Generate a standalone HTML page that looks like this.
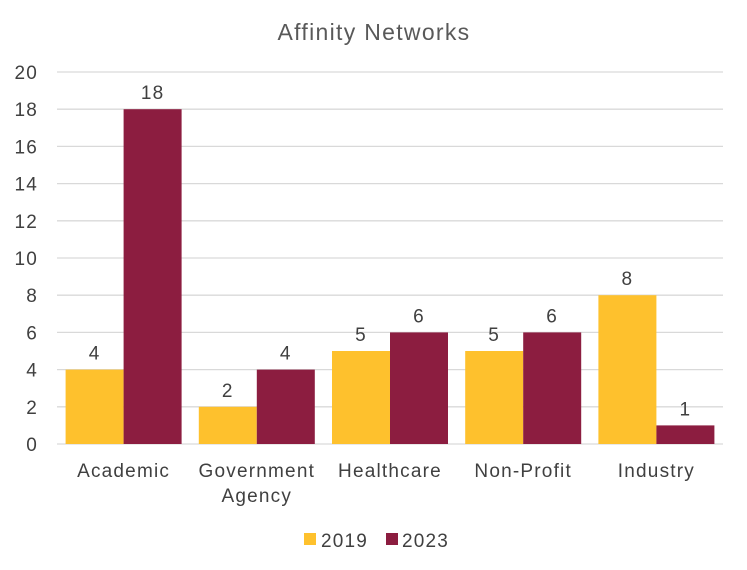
<!DOCTYPE html>
<html><head><meta charset="utf-8"><style>
body{margin:0;background:#fff;}
svg{display:block;font-family:"Liberation Sans",Arial,sans-serif;}
svg text{letter-spacing:1.2px;}
</style></head><body>
<svg id="chart" width="747" height="570">
<text x="374" y="40" text-anchor="middle" font-size="23" fill="#595959" style="letter-spacing:1.3px">Affinity Networks</text>
<g id="grid"></g><g id="bars"></g><g id="labels"></g>
<g>
<rect x="304" y="533" width="12" height="12" fill="#FEC12D"/>
<text x="321" y="547" font-size="19" fill="#404040">2019</text>
<rect x="386" y="533" width="12" height="12" fill="#8C1D40"/>
<text x="402" y="547" font-size="19" fill="#404040">2023</text>
</g>
</svg>
<script>
const categories=[["Academic"],["Government","Agency"],["Healthcare"],["Non-Profit"],["Industry"]];
const values2019=[4,2,5,5,8];
const values2023=[18,4,6,6,1];
const yTicks=[0,2,4,6,8,10,12,14,16,18,20];
const NS="http://www.w3.org/2000/svg";
const x0=57,x1=723,yBase=444,yTop=72,yMax=20;
const y=v=>yBase-(v/yMax)*(yBase-yTop);
const band=(x1-x0)/categories.length;
function mk(tag,attrs,parent,text){const e=document.createElementNS(NS,tag);for(const k in attrs)e.setAttribute(k,attrs[k]);if(text!==undefined)e.textContent=text;parent.appendChild(e);return e;}
const grid=document.getElementById('grid'),bars=document.getElementById('bars'),labels=document.getElementById('labels');
yTicks.forEach(t=>{
  const l=mk('line',{x1:x0,x2:x1,y1:y(t),y2:y(t),stroke:'#d9d9d9','stroke-width':1.3},grid);
  
  
  const tx=mk('text',{x:38,y:y(t)+7,'text-anchor':'end','font-size':19,fill:'#404040'},grid,String(t));
  
  
});
const bw=58,pad=(band-2*bw)/2;
categories.forEach((c,i)=>{
  const bx=x0+i*band+pad;
  [[values2019[i],'#FEC12D','2019',bx],[values2023[i],'#8C1D40','2023',bx+bw]].forEach(([v,col,s,xx])=>{
    const r=mk('rect',{x:xx,y:y(v),width:bw,height:yBase-y(v),fill:col},bars);
    
    
    const t=mk('text',{x:xx+bw/2,y:y(v)-10,'text-anchor':'middle','font-size':19,fill:'#404040'},labels,String(v));
    
    
  });
  const cx=x0+i*band+band/2;
  c.forEach((line,j)=>{
    const t=mk('text',{x:cx,y:477+j*25,'text-anchor':'middle','font-size':19,fill:'#404040'},labels,line);
    
    
  });
});
</script>
</body></html>
